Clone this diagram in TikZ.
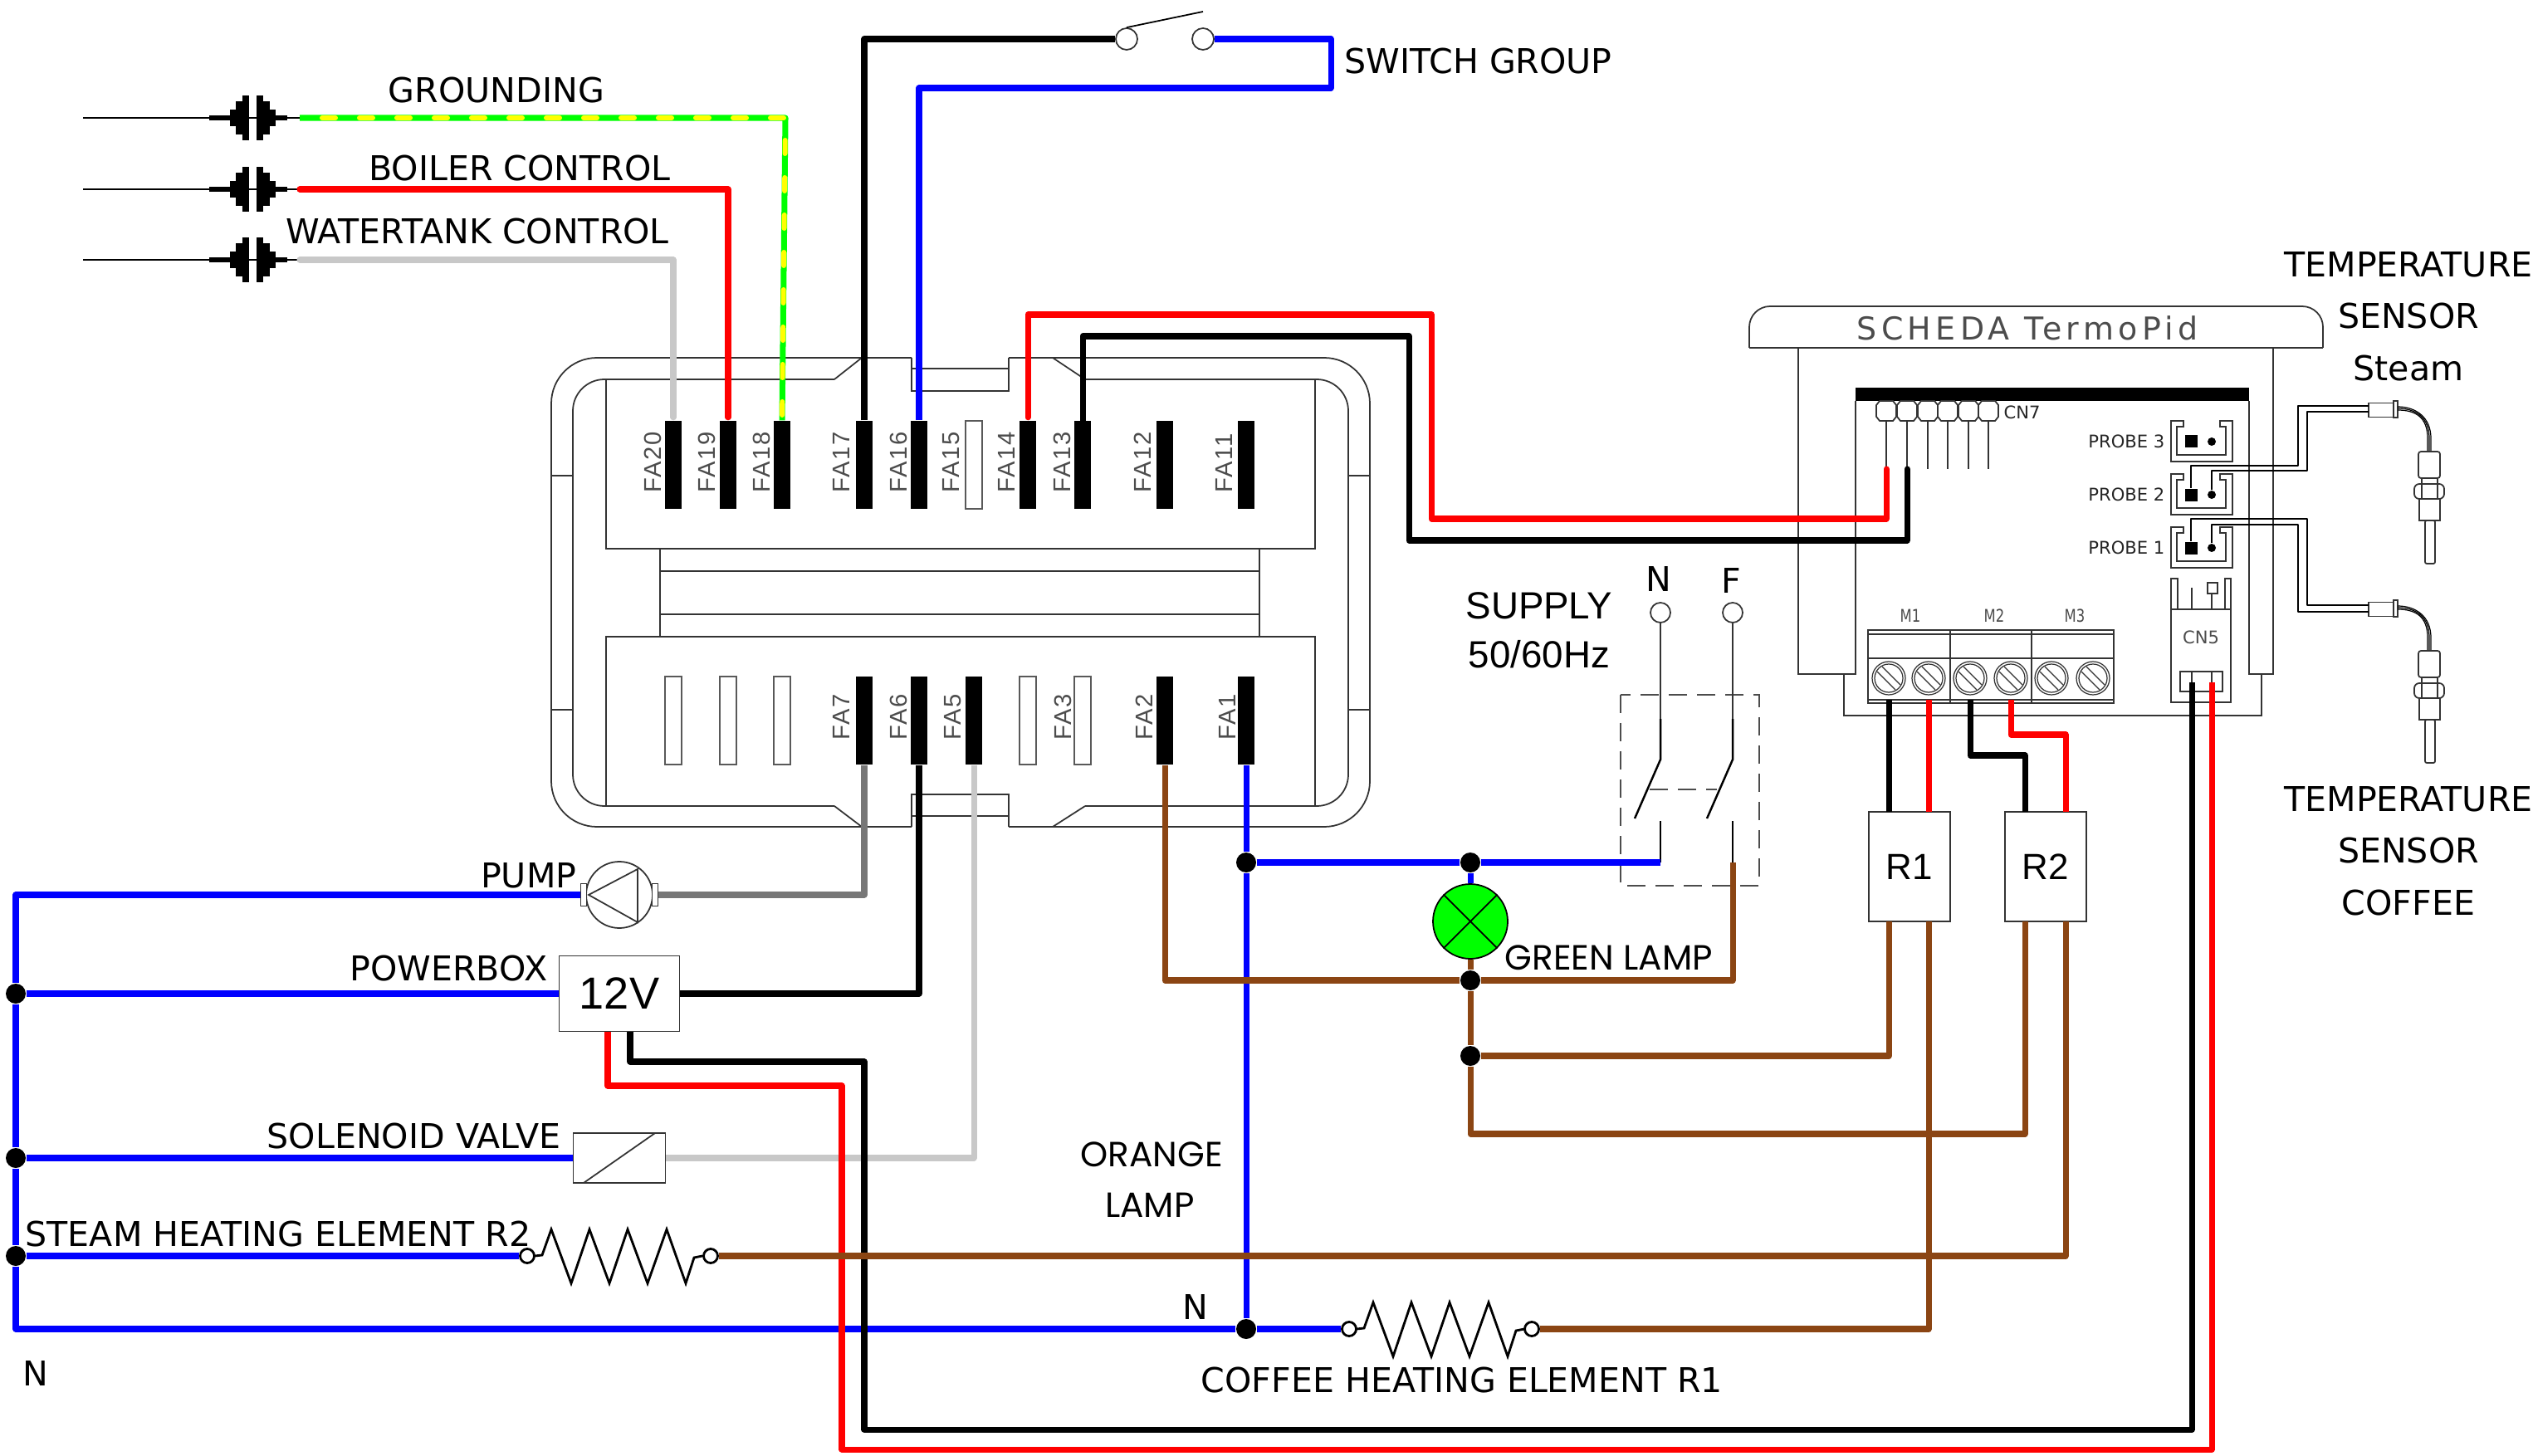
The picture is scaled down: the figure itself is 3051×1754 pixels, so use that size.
\documentclass[tikz,border=0pt]{standalone}
\usepackage{fontspec}
\usepackage{pdfrender}
\setmainfont{DejaVu Sans}
\newfontfamily\arialfont{Liberation Sans}
\newfontfamily\gothicfont{Poppins}
\newfontfamily\fafont[LetterSpace=6]{Liberation Sans}
\newfontfamily\schedafont[LetterSpace=14]{DejaVu Sans}
\usetikzlibrary{positioning, shapes.geometric}
\definecolor{wblue}{HTML}{0000FF}
\definecolor{wred}{HTML}{FF0000}
\definecolor{wbrown}{HTML}{8B4513}
\definecolor{wgray}{HTML}{C8C8C8}
\definecolor{wdgray}{HTML}{777777}
\definecolor{wgreen}{HTML}{00FF00}
\definecolor{wyellow}{HTML}{FFFF00}
\newcommand{\lblfont}{\fontsize{11.7}{13}\selectfont}
\newcommand{\cadfont}{\fontsize{6}{7}\selectfont}
\newcommand{\hollow}[1]{\textpdfrender{TextRenderingMode=1,LineWidth=0.22pt}{#1}}
\newcommand{\heatcoil}[2]{\draw[coil, shift={(#1)}] (9,0) -- (18,-1) -- (29,-32) -- (53,33) -- (75,-32) -- (99,33) -- (121,-32) -- (145,33) -- (168,-32) -- (191,33) -- (201,2) -- (211,0);}
\begin{document}
\begin{tikzpicture}[
    x=0.1mm, y=-0.1mm,
    wire/.style={line width=2pt, line join=round},
    capwire/.style={wire, line cap=round},
    thinw/.style={line width=0.6pt, line join=round},
    outline/.style={line width=0.5pt, draw=black!80},
    fineline/.style={line width=0.35pt, draw=black!80},
    coil/.style={line width=0.8pt, line join=miter},
    faon/.style={rectangle, fill=black, minimum width=2mm, minimum height=10.6mm, inner sep=0},
    faoff/.style={rectangle, draw=black!65, line width=0.5pt, fill=white, minimum width=2mm, minimum height=10.6mm, inner sep=0},
    falabel/.style={font=\fontsize{8.3}{9}\selectfont\fafont, text=black!70, rotate=90, anchor=base west, inner sep=0},
    label/.style={font=\lblfont, inner sep=0},
    bigtext/.style={font=\fontsize{13}{15}\selectfont\arialfont, inner sep=0},
    thintext/.style={font=\fontsize{12}{14}\selectfont\gothicfont, inner sep=0},
    cadlabel/.style={font=\cadfont, text=black!85, inner sep=0},
    block/.style={rectangle, outline, fill=white, inner sep=0},
    jdot/.style={circle, fill=black, minimum size=2.4mm, inner sep=0},
    ringend/.style={circle, draw=black, line width=0.8pt, fill=white, minimum size=1.7mm, inner sep=0},
    terminal/.style={circle, outline, fill=white, minimum size=2.6mm, inner sep=0}
]
\useasboundingbox (0,0) rectangle (3051,1754);

% fuse box housing
\draw[outline, rounded corners=5.5mm] (1098,431) -- (664,431) -- (664,996) -- (1098,996);
\draw[outline, rounded corners=5.5mm] (1215,431) -- (1650,431) -- (1650,996) -- (1215,996);
\draw[outline] (1098,431) -- (1098,471) -- (1215,471) -- (1215,431);
\draw[outline] (1098,444) -- (1215,444);
\draw[outline] (1098,996) -- (1098,957) -- (1215,957) -- (1215,996);
\draw[outline] (1098,983) -- (1215,983);
\draw[outline, rounded corners=3.8mm] (1005,457) -- (690,457) -- (690,971) -- (1005,971);
\draw[outline, rounded corners=3.8mm] (1307,457) -- (1624,457) -- (1624,971) -- (1307,971);
\draw[outline] (1005,457) -- (1038,431);
\draw[outline] (1307,457) -- (1268,431);
\draw[outline] (1005,971) -- (1038,996);
\draw[outline] (1307,971) -- (1268,996);
\draw[outline] (730,457) -- (730,661) -- (1584,661) -- (1584,457);
\draw[outline] (730,971) -- (730,767) -- (1584,767) -- (1584,971);
\draw[outline] (795,661) -- (795,767);
\draw[outline] (1517,661) -- (1517,767);
\draw[outline] (795,688) -- (1517,688);
\draw[outline] (795,740) -- (1517,740);
\foreach \y in {573,855} {
    \draw[outline] (664,\y) -- (690,\y);
    \draw[outline] (1624,\y) -- (1650,\y);
}

% fuse box terminals
\foreach \nm/\x/\st in {fa20/811/faon, fa19/877/faon, fa18/942/faon, fa17/1041/faon, fa16/1107/faon, fa15/1173/faoff, fa14/1238/faon, fa13/1304/faon, fa12/1403/faon, fa11/1501/faon} {
    \node[\st] (\nm) at (\x,560) {};
}
\foreach \nm/\x/\st in {fb8/811/faoff, fb9/877/faoff, fb10/942/faoff, fa7/1041/faon, fa6/1107/faon, fa5/1173/faon, fa4/1238/faoff, fa3/1304/faoff, fa2/1403/faon, fa1/1501/faon} {
    \node[\st] (\nm) at (\x,868) {};
}
\foreach \nm/\txt/\x in {l20/FA20/796, l19/FA19/861, l18/FA18/927, l17/FA17/1023, l16/FA16/1092, l15/FA15/1155, l14/FA14/1222, l13/FA13/1289, l12/FA12/1386, l11/FA11/1484} {
    \node[falabel] (\nm) at (\x,594) {\hollow{\txt}};
}
\foreach \nm/\txt/\x in {l7/FA7/1023, l6/FA6/1092, l5/FA5/1157, l3/FA3/1290, l2/FA2/1388, l1/FA1/1488} {
    \node[falabel] (\nm) at (\x,892) {\hollow{\txt}};
}

% probe plugs
\foreach \nm/\y in {plugG/142, plugB/228, plugW/313} {
    \coordinate (\nm) at (361,\y);
    \draw[line width=0.6pt] (100,\y) -- (\nm);
    \foreach \a/\b/\h in {252/277/3, 277/284/10, 284/292/20, 292/300/27, 309/317/27, 317/325/20, 325/332/10, 332/346/3} {
        \fill (\a,\y-\h) rectangle (\b,\y+\h);
    }
}
\node[label] (lblGround) at (598,109) {GROUNDING};
\node[label] (lblBoiler) at (626,203) {BOILER CONTROL};
\node[label] (lblTank) at (575,279) {WATERTANK CONTROL};
\draw[wire, draw=wgreen] (plugG) -- (946,142) -- (fa18.north);
\draw[line width=1.7pt, draw=wyellow, line cap=round, dash pattern=on 1.6mm off 2.9mm, dash phase=1.8mm] (plugG) -- (946,142) -- (fa18.north);
\draw[capwire, draw=wred, shorten >=0.35mm] (plugB) -| (fa19.north);
\draw[capwire, draw=wgray, shorten >=0.35mm] (plugW) -| (fa20.north);

% switch group
\node[terminal] (swA) at (1357,47) {};
\node[terminal] (swB) at (1449,47) {};
\draw[line width=0.5pt] (swA.north) -- (1449,14);
\draw[wire, draw=black] (fa17.north) |- (swA);
\draw[wire, draw=wblue] (fa16.north) |- (1603,106) -- (1603,47) -- (swB);
\node[label, anchor=west] (lblSwitch) at (1619,74) {SWITCH GROUP};

% control board
\draw[outline, rounded corners=2.5mm] (2107,419) -- (2107,369) -- (2798,369) -- (2798,419);
\draw[outline] (2107,419) -- (2798,419);
\node[font=\fontsize{10.8}{12}\selectfont\schedafont, text=black!70, inner sep=0] (lblScheda) at (2442,395) {\hollow{SCHEDA\ TermoPid}};
\draw[outline] (2166,419) -- (2166,812) -- (2235,812) -- (2235,483);
\draw[outline] (2738,419) -- (2738,812) -- (2709,812) -- (2709,483);
\draw[outline] (2221,812) -- (2221,862) -- (2724,862) -- (2724,812);
\fill (2235,467) rectangle (2709,483);
\foreach \i/\x in {1/2272, 2/2297, 3/2322, 4/2346, 5/2371, 6/2395} {
    \coordinate (cn\i) at (\x,565);
    \draw[outline] (\x,507) -- (cn\i);
    \draw[outline] (\x-8,483) -- (\x+8,483) -- (\x+12,488) -- (\x+12,502) -- (\x+8,507) -- (\x-8,507) -- (\x-12,502) -- (\x-12,488) -- cycle;
}
\node[cadlabel, anchor=west] (lblCNseven) at (2413,497) {CN7};
\foreach \i/\y in {3/507, 2/571, 1/635} {
    \draw[outline, shift={(2615,\y)}] (0,0) -- (15,0) -- (15,7) -- (7,7) -- (7,41) -- (66,41) -- (66,7) -- (59,7) -- (59,0) -- (74,0) -- (74,49) -- (0,49) -- cycle;
    \node[rectangle, fill=black, minimum size=1.5mm, inner sep=0] (padA\i) at (2639,\y+25) {};
    \node[circle, fill=black, minimum size=1mm, inner sep=0] (padB\i) at (2664,\y+25) {};
    \node[cadlabel, anchor=east] (lblProbe\i) at (2608,\y+25) {PROBE \i};
}

% terminal block
\draw[outline] (2250,759) rectangle (2546,847);
\draw[outline] (2250,764) -- (2546,764);
\draw[outline] (2250,793) -- (2546,793);
\draw[outline] (2250,843) -- (2546,843);
\draw[outline] (2349,759) -- (2349,847);
\draw[outline] (2447,759) -- (2447,847);
\foreach \nm/\x in {M1a/2275, M1b/2323, M2a/2373, M2b/2422, M3a/2471, M3b/2521} {
    \coordinate (\nm) at (\x,843);
    \draw[fineline] (\x,817) circle[radius=2mm];
    \draw[fineline] (\x,817) circle[radius=1.7mm];
    \draw[fineline] (\x-14,809) -- (\x+8,831);
    \draw[fineline] (\x-8,803) -- (\x+14,825);
}
\foreach \nm/\txt/\x in {lblMa/M1/2301, lblMb/M2/2402, lblMc/M3/2499} {
    \node[cadlabel, text=black!70] (\nm) at (\x,742) {\scalebox{.78}[1]{\txt}};
}

% CN5 connector
\draw[outline] (2615,734) rectangle (2687,846);
\draw[outline] (2615,734) -- (2615,697) -- (2623,697) -- (2623,734);
\draw[outline] (2680,734) -- (2680,697) -- (2687,697) -- (2687,734);
\draw[outline] (2640,708) -- (2640,734);
\draw[outline] (2664,715) -- (2664,734);
\draw[outline] (2659,702) rectangle (2671,715);
\draw[outline] (2626,809) rectangle (2677,833);
\draw[outline] (2640,809) -- (2640,822);
\draw[outline] (2664,809) -- (2664,822);
\node[cadlabel, text=black!70] (lblCNfive) at (2651,768) {CN5};
\coordinate (cn5K) at (2640,822);
\coordinate (cn5R) at (2664,822);

% relays
\node[block, minimum width=9.85mm, minimum height=13.2mm, font=\fontsize{12.5}{14}\selectfont\arialfont] (relayA) at (2300,1044) {R1};
\node[block, minimum width=9.85mm, minimum height=13.2mm, font=\fontsize{12.5}{14}\selectfont\arialfont] (relayB) at (2464,1044) {R2};
\foreach \nm/\x/\y in {R1tl/2275/978, R1tr/2323/978, R2tl/2439/978, R2tr/2488/978, R1bl/2275/1110, R1br/2323/1110, R2bl/2439/1110, R2br/2488/1110} {
    \coordinate (\nm) at (\x,\y);
}
\draw[wire, draw=black] (M1a) -- (R1tl);
\draw[wire, draw=wred] (M1b) -- (R1tr);
\draw[wire, draw=black] (M2a) -- (2373,910) -| (R2tl);
\draw[wire, draw=wred] (M2b) -- (2422,885) -| (R2tr);

% cables to probes
\node[rectangle, outline, minimum width=3mm, minimum height=1.7mm, inner sep=0] (snsA) at (2868,494) {};
\node[rectangle, outline, minimum width=3mm, minimum height=1.7mm, inner sep=0] (snsB) at (2868,734) {};
\coordinate (snsAa) at (2853,489);
\coordinate (snsAb) at (2853,496);
\coordinate (snsBa) at (2853,729);
\coordinate (snsBb) at (2853,737);
\draw[thinw] (padA2) |- (2768,561) |- (snsAa);
\draw[thinw] (padB2) |- (2779,567) |- (snsAb);
\draw[thinw] (padA1) |- (2779,625) |- (snsBa);
\draw[thinw] (padB1) |- (2768,632) |- (snsBb);
\foreach \dy in {0,240} {
    \begin{scope}[shift={(0,\dy)}]
    \draw[outline] (2883,483) rectangle (2888,503);
    \foreach \d in {-2,0,2} {
        \draw[line width=0.35pt] (2888,492-\d) .. controls (2910,492-\d) and (2926+\d,503) .. (2926+\d,528) -- (2926+\d,544);
    }
    \draw[outline, rounded corners=0.3mm] (2913,544) rectangle (2939,576);
    \draw[outline] (2917,576) rectangle (2936,583);
    \draw[outline, rounded corners=0.6mm] (2908,583) rectangle (2944,601);
    \draw[outline] (2917,583) -- (2917,601);
    \draw[outline] (2936,583) -- (2936,601);
    \draw[outline] (2914,601) rectangle (2939,627);
    \draw[outline, rounded corners=0.2mm] (2921,627) rectangle (2933,679);
    \end{scope}
}
\node[label] (lblTa) at (2901,319) {TEMPERATURE};
\node[label] (lblTb) at (2901,381) {SENSOR};
\node[label] (lblTc) at (2901,444) {Steam};
\node[label] (lblCa) at (2901,963) {TEMPERATURE};
\node[label] (lblCb) at (2901,1025) {SENSOR};
\node[label] (lblCc) at (2901,1088) {COFFEE};

% supply and main switch
\node[bigtext] (lblSupply) at (1854,730) {SUPPLY};
\node[bigtext] (lblHz) at (1854,788) {50/60Hz};
\node[label] (lblN) at (1998,698) {N};
\node[label] (lblF) at (2085,700) {F};
\node[terminal, minimum size=2.4mm] (supN) at (2000,738) {};
\node[terminal, minimum size=2.4mm] (supF) at (2087,738) {};
\draw[outline, dash pattern=on 2.2mm off 1.2mm, draw=black!70] (1952,837) rectangle (2119,1067);
\draw[outline, dash pattern=on 2.2mm off 1.2mm, draw=black!70] (1987,951) -- (2068,951);
\foreach \nm/\x in {supN/2000, supF/2087} {
    \draw[outline] (\nm) -- (\x,866);
    \draw[line width=0.7pt] (\x,866) -- (\x,915) -- (\x-31,986);
    \draw[line width=0.7pt] (\x,989) -- (\x,1039);
}
\coordinate (swNlow) at (2000,1039);
\coordinate (swFlow) at (2087,1039);

% green lamp
\node[jdot] (dotO) at (1501,1039) {};
\node[jdot] (dotL) at (1771,1039) {};
\node[jdot] (dotB) at (1771,1181) {};
\node[jdot] (dotR) at (1771,1272) {};
\node[jdot] (dotN) at (1501,1601) {};
\node[circle, draw=black, line width=0.5pt, fill=wgreen, minimum size=9mm, inner sep=0] (lamp) at (1771,1110) {};
\draw[line width=0.5pt] (lamp.45) -- (lamp.225);
\draw[line width=0.5pt] (lamp.135) -- (lamp.315);
\node[thintext, anchor=west] (lblGreen) at (1812,1154) {GREEN LAMP};
\node[thintext] (lblOrangeA) at (1387,1391) {ORANGE};
\node[thintext] (lblOrangeB) at (1385,1452) {LAMP};

% loads on the left
\node[jdot] (dotP) at (19,1197) {};
\node[jdot] (dotS) at (19,1395) {};
\node[jdot] (dotH) at (19,1513) {};
\node[circle, outline, fill=white, minimum size=8mm, inner sep=0] (pump) at (746,1078) {};
\draw[outline] (709,1078) -- (768,1047) -- (768,1111) -- cycle;
\node[rectangle, outline, fill=white, minimum width=0.7mm, minimum height=2.7mm, inner sep=0] (stubL) at (703,1078) {};
\node[rectangle, outline, fill=white, minimum width=0.7mm, minimum height=2.7mm, inner sep=0] (stubR) at (789,1078) {};
\node[block, minimum width=14.5mm, minimum height=9.1mm, font=\fontsize{15.4}{18}\selectfont\arialfont] (powerbox) at (746,1197) {12V};
\node[block, minimum width=11.1mm, minimum height=6mm] (valve) at (746,1395) {};
\draw[outline] (703,1425) -- (789,1365);
\node[ringend] (ringRa) at (635,1513) {};
\node[ringend] (ringRb) at (856,1513) {};
\node[ringend] (ringCa) at (1625,1601) {};
\node[ringend] (ringCb) at (1845,1601) {};
\heatcoil{ringRa}{ringRb}
\heatcoil{ringCa}{ringCb}
\coordinate (pwrR) at (732,1243);
\coordinate (pwrK) at (759,1243);
\node[label, anchor=east] (lblPump) at (695,1055) {PUMP};
\node[label, anchor=east] (lblPower) at (660,1167) {POWERBOX};
\node[label, anchor=east] (lblValve) at (676,1369) {SOLENOID VALVE};
\node[label, anchor=west] (lblSteam) at (30,1487) {STEAM HEATING ELEMENT R2};
\node[label] (lblCoffee) at (1761,1663) {COFFEE HEATING ELEMENT R1};
\node[label] (lblNa) at (1440,1574) {N};
\node[label] (lblNb) at (43,1654) {N};

% neutral wires
\draw[wire, draw=wblue] (stubL.west) -| (dotP) -- (dotS) -- (dotH) |- (dotN);
\draw[wire, draw=wblue] (dotP) -- (powerbox.west);
\draw[wire, draw=wblue] (dotS) -- (valve.west);
\draw[wire, draw=wblue] (dotH) -- (ringRa);
\draw[wire, draw=wblue] (dotN) -- (ringCa);
\draw[wire, draw=wblue] (fa1.south) -- (dotO) -- (dotN);
\draw[wire, draw=wblue] (dotO) -- (dotL) -- (swNlow);
\draw[wire, draw=wblue] (dotL) -- (lamp.north);

% loads to fuse box and board
\draw[wire, draw=wdgray] (stubR.east) -| (fa7.south);
\draw[wire, draw=black] (powerbox.east) -| (fa6.south);
\draw[wire, draw=wgray] (valve.east) -| (fa5.south);
\draw[capwire, draw=wred, shorten <=0.35mm] (fa14.north) |- (1724,379) |- (2272,625) -- (cn1);
\draw[capwire, draw=black] (fa13.north) |- (1697,405) |- (2297,651) -- (cn2);
\draw[wire, draw=wred] (pwrR) |- (1014,1308) |- (2664,1746) -- (cn5R);
\draw[wire, draw=black] (pwrK) |- (1041,1279) |- (2640,1722) -- (cn5K);

% brown wires
\draw[wire, draw=wbrown] (fa2.south) |- (dotB);
\draw[wire, draw=wbrown] (dotB) -| (swFlow);
\draw[wire, draw=wbrown] (lamp.south) -- (dotB) -- (dotR);
\draw[wire, draw=wbrown] (dotR) -| (R1bl);
\draw[wire, draw=wbrown] (dotR) -- (1771,1366) -| (R2bl);
\draw[wire, draw=wbrown] (ringCb) -| (R1br);
\draw[wire, draw=wbrown] (ringRb) -| (R2br);
\end{tikzpicture}
\end{document}
